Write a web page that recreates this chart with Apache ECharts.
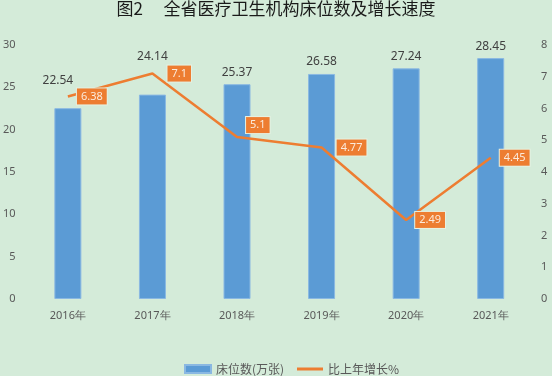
<!DOCTYPE html>
<html>
<head>
<meta charset="utf-8">
<script src="https://cdn.jsdelivr.net/npm/echarts@6/dist/echarts.min.js"></script>
<style>
  html, body { margin: 0; padding: 0; background: #d4ebd9; }
  #chart { width: 552px; height: 376px; }
</style>
</head>
<body>
<div id="chart"></div>
<script>
const years = ['2016年', '2017年', '2018年', '2019年', '2020年', '2021年'];
const beds = [22.54, 24.14, 25.37, 26.58, 27.24, 28.45];
const growth = [6.38, 7.1, 5.1, 4.77, 2.49, 4.45];
const leftTicks = [0, 30, 5];   // min, max, step
const rightTicks = [0, 8, 1];

// a few labels were nudged in the original to avoid overlaps
const barLabelOffset = { 0: [-10, -16], 1: [0, -26] };
const lineLabelOffset = { 1: [6, 0], 2: [0, -12], 3: [6, 0] };

const chart = echarts.init(document.getElementById('chart'));

const option = {
  backgroundColor: '#d4ebd9',
  textStyle: { fontFamily: 'Noto Sans, sans-serif' },
  title: {
    text: '图2　 全省医疗卫生机构床位数及增长速度',
    left: 'center',
    top: 0,
    padding: 0,
    textStyle: { fontSize: 17, fontWeight: 'normal', color: '#1a1a1a', fontFamily: 'Noto Sans CJK SC' }
  },
  grid: { left: 24, right: 19, top: 45, bottom: 77 },
  legend: [
    {
      left: 184, top: 363, padding: 0,
      itemWidth: 26, itemHeight: 8,
      icon: 'rect',
      textStyle: { color: '#595959', fontSize: 12, fontFamily: 'Noto Sans CJK SC' },
      data: ['床位数(万张)']
    },
    {
      left: 297, top: 363, padding: 0,
      itemWidth: 26, itemHeight: 3,
      icon: 'rect',
      textStyle: { color: '#595959', fontSize: 12, fontFamily: 'Noto Sans CJK SC' },
      data: ['比上年增长%']
    }
  ],
  xAxis: {
    type: 'category',
    data: years,
    axisTick: { show: false },
    axisLine: { show: false },
    axisLabel: { color: '#595959', fontSize: 11, margin: 11 }
  },
  yAxis: [
    {
      type: 'value',
      min: leftTicks[0], max: leftTicks[1], interval: leftTicks[2],
      splitLine: { show: false },
      axisLine: { show: false },
      axisTick: { show: false },
      axisLabel: { color: '#595959', fontSize: 11, margin: 10 }
    },
    {
      type: 'value',
      min: rightTicks[0], max: rightTicks[1], interval: rightTicks[2],
      splitLine: { show: false },
      axisLine: { show: false },
      axisTick: { show: false },
      axisLabel: { color: '#595959', fontSize: 11, margin: 8 }
    }
  ],
  series: [
    {
      name: '床位数(万张)',
      type: 'bar',
      barWidth: 27,
      itemStyle: { color: '#5b9bd5', borderColor: '#8ab8e2', borderWidth: 1 },
      label: { show: true, position: 'top', color: '#404040', fontSize: 12, distance: 6 },
      data: beds.map((v, i) => barLabelOffset[i]
        ? { value: v, label: { offset: barLabelOffset[i] } }
        : v)
    },
    {
      name: '比上年增长%',
      type: 'line',
      yAxisIndex: 1,
      symbol: 'circle',
      symbolSize: 0.1,
      lineStyle: { color: '#ed7d31', width: 2.5 },
      itemStyle: { color: '#ed7d31' },
      label: {
        show: true,
        position: 'right',
        distance: 9,
        backgroundColor: '#ed7d31',
        borderColor: '#e6f1e2',
        borderWidth: 1,
        color: '#fbeadb',
        fontSize: 11,
        padding: [3, 4, 2, 4]
      },
      data: growth.map((v, i) => lineLabelOffset[i]
        ? { value: v, label: { offset: lineLabelOffset[i] } }
        : v)
    }
  ]
};

chart.setOption(option);
</script>
</body>
</html>
